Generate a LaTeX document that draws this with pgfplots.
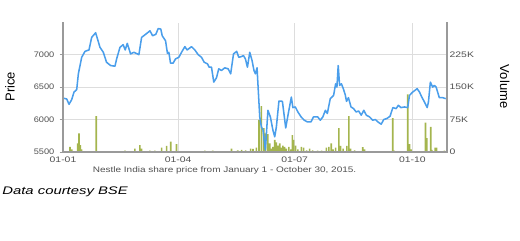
\documentclass[border=0pt]{standalone}
\usepackage{fontspec}
\setmainfont{Liberation Sans}
\usepackage{pgfplots}
\pgfplotsset{compat=1.18}
\definecolor{lineblue}{HTML}{4A9EEB}
\definecolor{barolive}{HTML}{A4B54E}
\definecolor{gridgray}{HTML}{DDDDDD}
\definecolor{axgray}{HTML}{9A9A9A}
\definecolor{txtgray}{HTML}{505050}
\begin{document}
\begin{tikzpicture}
\path (0,0) rectangle (390pt,180pt);
% volume axis (right)
\begin{axis}[
 name=vol,
 at={(47.25pt,66pt)}, anchor=south west, scale only axis,
 width=288pt, height=97.5pt,
 xmin=0, xmax=300, ymin=0, ymax=300,
 axis x line*=bottom, axis y line*=right,
 axis line style={draw=none},
 xtick={0,90,181,273}, xticklabels={01-01,01-04,01-07,01-10},
 ytick={0,75,150,225}, yticklabels={0,75K,150K,225K},
 ymajorgrids, xmajorgrids, major grid style={gridgray, line width=0.6pt},
 major tick length=0pt,
 tick label style={font=\fontsize{6}{7}\selectfont, text=txtgray},
 xticklabel style={xscale=1.3, yshift=0pt},
 yticklabel style={xscale=1.3, xshift=-2pt},
]
\addplot[ybar, bar width=1.2pt, fill=barolive, draw=none] coordinates {
(2,2) (5.5,12) (6.8,6) (8,2) (11.5,20) (12.5,43) (13.5,16) (14.6,6) (18,1.5) (22,1.5) (26,83) (30,1.5) (36.7,2) (42,1.5) (48.4,3) (52,1.5)
(56.2,8) (60,16) (61.4,8) (64,2) (67.9,3) (71.8,3) (77,10) (80.9,14) (84.2,24) (88.7,18) (95,1.5) (100,2) (106,1.5)
(110.8,3) (117,3) (122,1.5) (127,2) (131.6,8) (136.5,4) (139.6,5) (142.7,4) (146.6,8) (148.4,7) (151.1,10)
(153.1,74) (155,106) (156.8,55) (158.3,43) (160.1,41) (161.5,20) (162.8,8) (164,12) (165.4,28) (166.7,22) (167.9,15)
(169.3,20) (170.6,10) (171.8,15) (173.2,12) (174.5,8) (176.5,12) (178,6) (179.2,39) (180.2,28) (181.7,15)
(183.5,6) (186.2,12) (188,10) (190.3,4) (192.7,8) (195,4) (198.9,3) (202,3) (205.7,10) (207.7,12) (209.6,20)
(211,6) (213,10) (215.5,55) (216.8,14) (218.8,8) (221.8,14) (223.3,83) (224.6,8) (227.8,4) (231,2) (234.2,11)
(235.6,6) (240,1.5) (244.7,2) (251.2,2) (257.6,78) (258.6,3) (264,1.5) (269.3,133) (270.7,18) (272,6) (277,2)
(283.2,68) (284.3,32) (287.3,58) (288.2,5) (290.7,10) (291.9,10) (295,2) (298,3)
};
\end{axis}
% price axis (left)
\begin{axis}[
 at={(47.25pt,66pt)}, anchor=south west, scale only axis,
 width=288pt, height=97.5pt,
 xmin=0, xmax=300, ymin=5500, ymax=7500,
 axis y line*=left, hide x axis, xtick=\empty,
 axis line style={draw=none},
 ytick={5500,6000,6500,7000}, yticklabels={5500,6000,6500,7000},
 tick align=outside, major tick length=2.5pt,
 ytick style={axgray, line width=0.6pt},
 tick label style={font=\fontsize{6}{7}\selectfont, text=txtgray},
 yticklabel style={xscale=1.15},
]
\addplot[lineblue, line width=1.15pt, mark=none, line join=round] coordinates {
(0,6330) (2.9,6315) (4.7,6234) (6.8,6306) (8.6,6422) (10.7,6459) (12,6703) (14.6,6957) (17.2,7049)
(20.3,7070) (22.4,7263) (25.5,7335) (28.9,7110) (31.5,7034) (34,6881) (37.2,6830) (40.6,6820) (41.9,6932)
(44.5,7110) (47,7151) (48.6,7070) (50.2,7171) (52.8,7009) (55.4,7034) (59.3,6998) (61.4,7263) (65.8,7330)
(67.9,7365) (70,7289) (72.5,7310) (74.4,7400) (76.4,7391) (77.5,7289) (80.1,7212) (81.6,7018) (82.7,7034)
(84,6866) (86,6866) (87.9,6932) (90.5,6957) (92.6,7034) (95.2,7121) (97,7070) (100.4,7121) (103,7070)
(105.6,6998) (108.2,6957) (110.3,6881) (112.9,6856) (114.2,6805) (116,6805) (117.8,6575) (119.9,6642)
(121.7,6780) (123.8,6754) (126.4,6795) (129,6780) (131,6703) (133.2,7009) (135.7,7049) (137.3,6957)
(139.4,6968) (141,6983) (142.5,6932) (144.1,6805) (145.9,7034) (147.7,6907) (149.2,6754) (150.3,6703)
(151.6,6795) (153.7,6040) (155,5887) (156.3,5836) (158.1,5530) (160.1,6142) (162,6040) (164,5836)
(165.4,5734) (166.7,5887) (168.7,6284) (171.4,6280) (174,5870) (176,6092) (178.4,6345) (179.6,6183)
(181.5,6193) (183.5,6116) (186,6040) (188.5,5989) (191,5963) (193.7,5963) (195.7,6040) (199,6040)
(201,5989) (203,6040) (205,6142) (206.5,6092) (208.8,6321) (211.4,6371) (213,6550) (214,6499) (215,6830)
(216.1,6524) (217.5,6550) (219,6474) (220.5,6380) (221.5,6280) (223,6336) (225,6193) (227,6168)
(229,6116) (231,6131) (233,6066) (235,6142) (237,6066) (239.5,6040) (242,5989) (244,6000) (246,5963)
(248.6,5928) (250.6,6000) (253,6015) (255.5,6050) (257.7,6183) (260.3,6168) (262,6219) (264,6183)
(266.8,6193) (269.3,6183) (270.7,6371) (273.2,6422) (276.7,6474) (278.5,6422) (280.3,6345) (282.4,6269)
(284.5,6183) (285.5,6269) (287,6575) (288.8,6499) (290.1,6524) (291.5,6499) (294,6336) (296.6,6336) (299,6321)
};
\end{axis}
\draw[white, line width=1.4pt] ([xshift=-1pt]vol.north west) -- ([xshift=1pt]vol.north east);
\draw[axgray, line width=0.8pt] (vol.north west) -- (vol.south west) -- (vol.south east) -- (vol.north east);
\node[rotate=90, font=\fontsize{9.75}{11}\selectfont] at (7.5pt,115pt) {Price};
\node[rotate=-90, font=\fontsize{9.75}{11}\selectfont] at (378.5pt,115pt) {Volume};
\node[font=\fontsize{6}{7}\selectfont, xscale=1.25, text=txtgray] at (168.4pt,52.5pt) {Nestle India share price from January 1 - October 30, 2015.};
\node[anchor=west, font=\itshape\fontsize{8.25}{10}\selectfont, xscale=1.35, inner sep=0pt] at (1.5pt,36.2pt) {Data courtesy BSE};
\end{tikzpicture}
\end{document}
